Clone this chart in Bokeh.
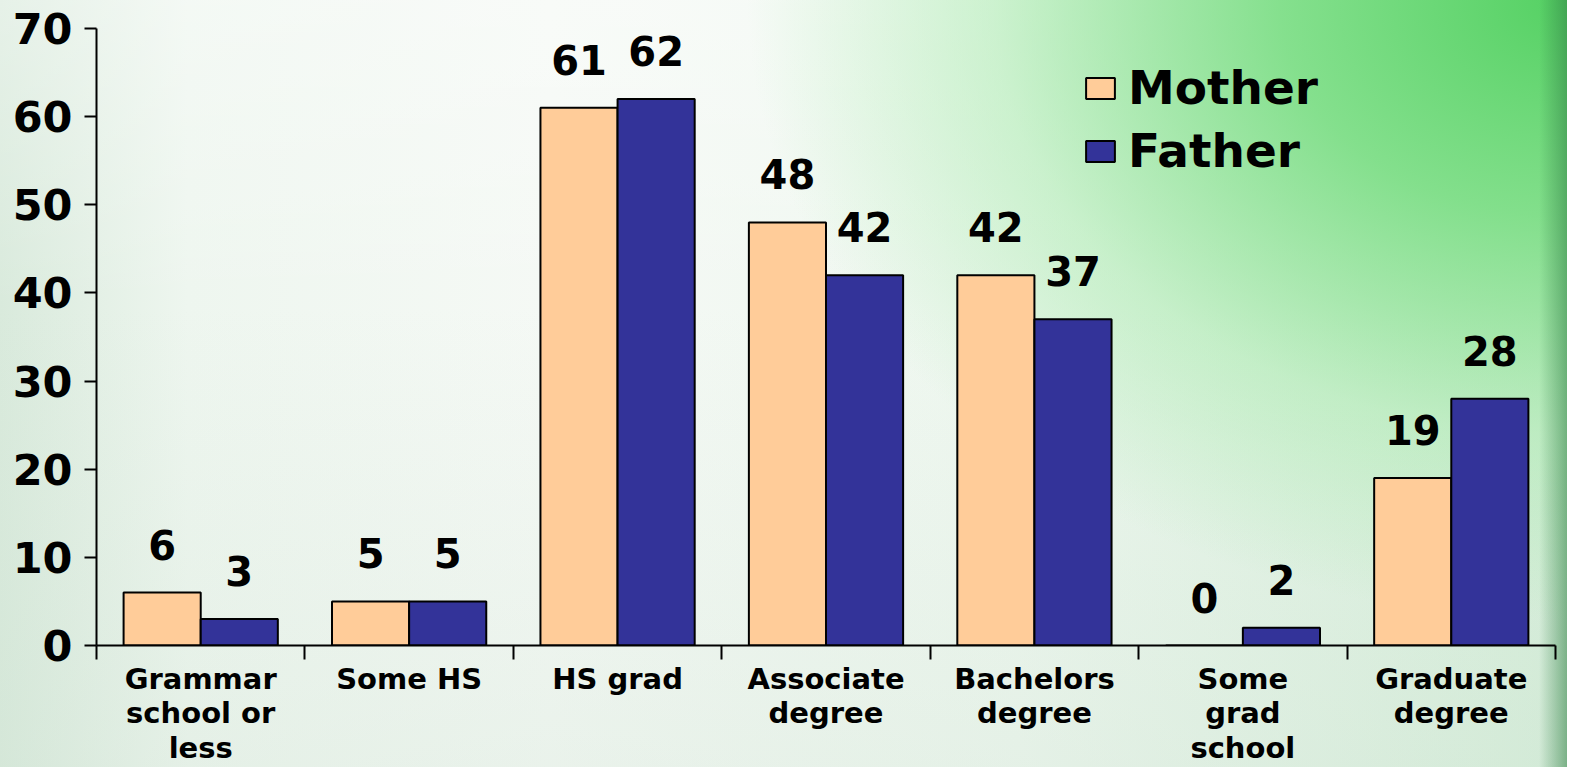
import numpy as np
from bokeh.plotting import figure
from bokeh.models import Range1d, FixedTicker, LinearAxis, Legend, LegendItem, ColumnDataSource
from bokeh.core.properties import value
from bokeh.embed import file_html
from bokeh.resources import INLINE

categories = ["Grammar\nschool or\nless", "Some HS", "HS grad", "Associate\ndegree",
              "Bachelors\ndegree", "Some\ngrad\nschool", "Graduate\ndegree"]
mother = [6, 5, 61, 48, 42, 0, 19]
father = [3, 5, 62, 42, 37, 2, 28]
y_ticks = [0, 10, 20, 30, 40, 50, 60, 70]
series_names = ["Mother", "Father"]
colors = ["#FFCC99", "#333399"]

FONT = "DejaVu Sans"
n = len(categories)
centers = np.arange(1, n + 1)
bounds = np.arange(n + 1) + 0.5
bar_w = 0.37

p = figure(width=1567, height=767, output_backend="svg", toolbar_location=None,
           x_range=Range1d(0.5, n + 0.5), y_range=Range1d(0, 70),
           x_axis_type=None, y_axis_type=None,
           min_border_left=96, min_border_right=12, min_border_top=28, min_border_bottom=110)
p.background_fill_alpha = 0
p.border_fill_alpha = 0
p.outline_line_color = None
p.xgrid.visible = False
p.ygrid.visible = False
p.styles = {"background": (
    "linear-gradient(to left, rgba(50,130,70,0.55) 0px, rgba(50,130,70,0.0) 28px),"
    "radial-gradient(ellipse 820px 620px at 100% 0%, rgba(80,208,95,0.97) 0%, rgba(115,220,125,0.85) 35%, rgba(165,234,170,0.5) 70%, rgba(200,240,205,0) 100%),"
    "linear-gradient(to bottom, rgba(255,255,255,0.35) 0%, rgba(255,255,255,0) 40%, rgba(200,222,205,0.25) 100%),"
    "linear-gradient(to right, #d9eadc 0%, #eef6ef 12%, #f5f9f5 35%, #eef7ef 65%, #d6eeda 100%)")}

# y axis
yax = LinearAxis(ticker=FixedTicker(ticks=y_ticks))
yax.axis_line_width = 2
yax.axis_line_color = "black"
yax.major_tick_line_width = 2
yax.major_tick_out = 12
yax.major_tick_in = 0
yax.minor_tick_line_color = None
yax.major_label_standoff = 12
yax.major_label_text_font = FONT
yax.major_label_text_font_style = "bold"
yax.major_label_text_font_size = "43px"
yax.major_label_text_color = "black"
p.add_layout(yax, "left")

# x axis: labels at centres, boundary ticks as minor ticks
xax = LinearAxis(ticker=FixedTicker(ticks=list(centers), minor_ticks=list(bounds)))
xax.major_label_overrides = {int(c): lab for c, lab in zip(centers, categories)}
xax.axis_line_width = 2
xax.axis_line_color = "black"
xax.major_tick_line_color = None
xax.major_tick_out = 0
xax.major_tick_in = 0
xax.minor_tick_line_width = 2
xax.minor_tick_line_color = "black"
xax.minor_tick_out = 14
xax.minor_tick_in = 0
xax.major_label_standoff = 2
xax.major_label_text_font = FONT
xax.major_label_text_font_style = "bold"
xax.major_label_text_font_size = "29px"
xax.major_label_text_line_height = 1.02
xax.major_label_text_color = "black"
p.add_layout(xax, "below")

# bars
items = []
offsets = [-bar_w / 2, bar_w / 2]
for name, vals, col, off in zip(series_names, [mother, father], colors, offsets):
    src = ColumnDataSource(dict(x=centers + off, top=vals, lab=[str(v) for v in vals]))
    r = p.vbar(x="x", top="top", bottom=0, width=bar_w, source=src,
               fill_color=col, line_color="black", line_width=2)
    p.text(x="x", y="top", text="lab", source=src, text_align="center",
           text_baseline="alphabetic", y_offset=-48,
           text_font=value(FONT), text_font_style="bold", text_font_size="40px",
           text_color="black")
    items.append(LegendItem(label=name, renderers=[r]))

legend = Legend(items=items, location=(986, 467), orientation="vertical")
legend.background_fill_alpha = 0
legend.border_line_color = None
legend.padding = 0
legend.margin = 0
legend.spacing = 8
legend.glyph_width = 36
legend.glyph_height = 26
legend.label_standoff = 10
legend.label_text_font = FONT
legend.label_text_font_style = "bold"
legend.label_text_font_size = "47px"
legend.label_text_color = "black"
p.add_layout(legend)

open("out.html", "w").write(file_html(p, INLINE))
